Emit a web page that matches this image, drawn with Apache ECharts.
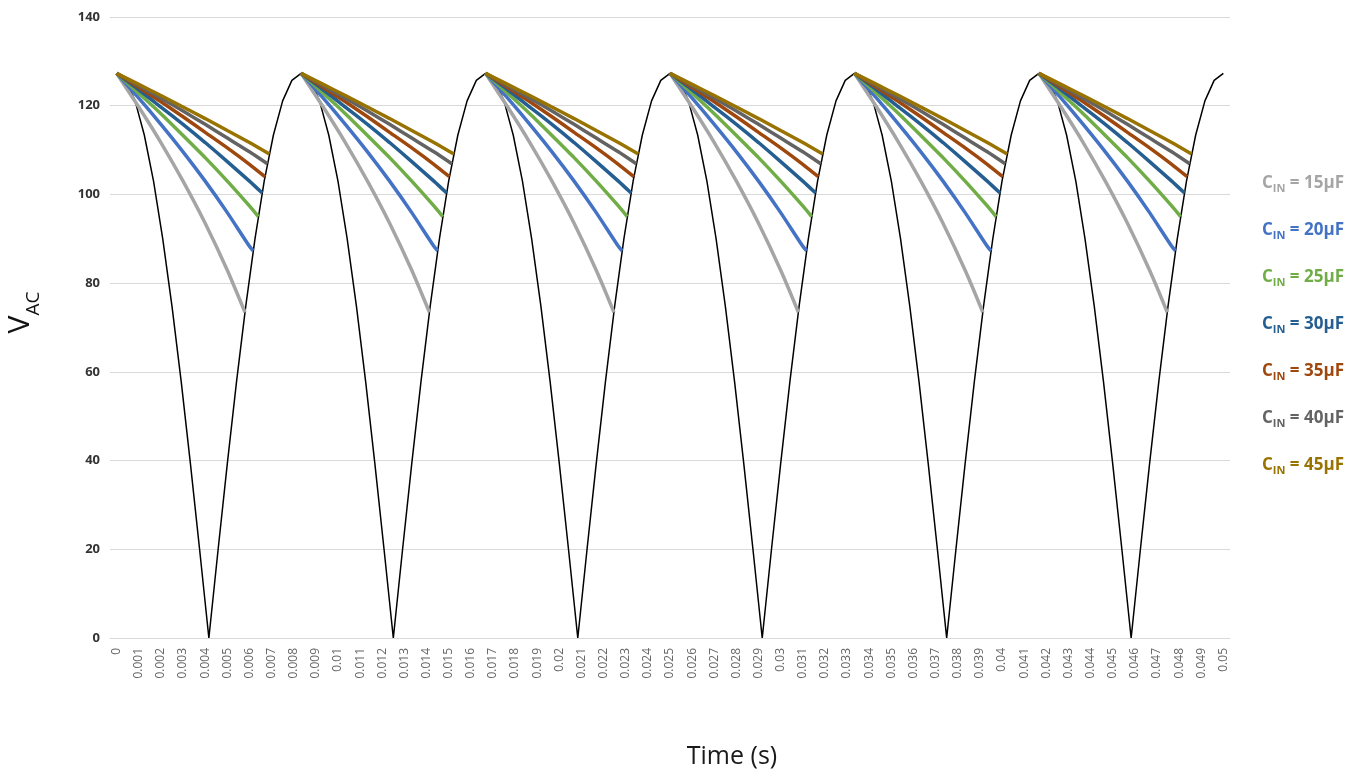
<!DOCTYPE html>
<html>
<head>
<meta charset="utf-8">
<script src="https://cdn.jsdelivr.net/npm/echarts@6/dist/echarts.min.js"></script>
<style>html,body{margin:0;padding:0;background:#fff;}#chart{width:1360px;height:769px;}</style>
</head>
<body>
<div id="chart"></div>
<script>
// ---- data ----
// start of each rectified half-cycle (s)
const cycleStarts = [0, 0.008333, 0.016667, 0.025, 0.033333, 0.041667];
// rectified source voltage over one half-cycle: time offsets (s) and values (V)
const halfCycleOffsets = [0, 0.000417, 0.000833, 0.00125, 0.001667, 0.002083, 0.0025, 0.002917, 0.003333, 0.00375, 0.004167,
                          0.004583, 0.005, 0.005417, 0.005833, 0.00625, 0.006667, 0.007083, 0.0075, 0.007917, 0.008333];
const sourceVoltage = [127.3, 125.7, 121.1, 113.4, 103.0, 90.0, 74.8, 57.8, 39.3, 19.9, 0,
                       19.9, 39.3, 57.8, 74.8, 90.0, 103.0, 113.4, 121.1, 125.7, 127.3];
// capacitor discharge within each half-cycle
const dischargeOffsets = [0, 0.001, 0.002, 0.003, 0.004, 0.005, 0.006];
const cin15 = [127.3, 119.7, 111.7, 103.0, 93.5, 82.9, null];
const cin20 = [127.3, 121.7, 115.8, 109.6, 103.0, 95.9, 88.3];
const cin25 = [127.3, 122.8, 118.2, 113.3, 108.3, 103.0, 97.4];
const cin30 = [127.3, 123.6, 119.7, 115.8, 111.7, 107.4, 103.0];
const cin35 = [127.3, 124.1, 120.9, 117.5, 114.0, 110.5, 106.8];
const cin40 = [127.3, 124.5, 121.7, 118.8, 115.8, 112.7, 109.6];
const cin45 = [127.3, 124.8, 122.3, 119.7, 117.1, 114.4, 111.7];
const dischargeEndOffset = [0.0058, 0.00617, 0.0064, 0.00658, 0.0067, 0.00681, 0.0069];
const dischargeEndValue = [73.4, 87.3, 95.0, 100.3, 104.0, 106.9, 109.1];
const capNames = ['15µF', '20µF', '25µF', '30µF', '35µF', '40µF', '45µF'];
const capColors = ['#A5A5A5', '#4472C4', '#70AD47', '#255E91', '#9E480E', '#636363', '#997300'];
// tick labels
const xTickLabels = [0, 0.001, 0.002, 0.003, 0.004, 0.005, 0.006, 0.007, 0.008, 0.009,
                     0.01, 0.011, 0.012, 0.013, 0.014, 0.015, 0.016, 0.017, 0.018, 0.019,
                     0.02, 0.021, 0.022, 0.023, 0.024, 0.025, 0.026, 0.027, 0.028, 0.029,
                     0.03, 0.031, 0.032, 0.033, 0.034, 0.035, 0.036, 0.037, 0.038, 0.039,
                     0.04, 0.041, 0.042, 0.043, 0.044, 0.045, 0.046, 0.047, 0.048, 0.049, 0.05];
const yTicks = [0, 20, 40, 60, 80, 100, 120, 140];

// ---- build series data ----
const sourceData = [];
cycleStarts.forEach((s, i) => {
  halfCycleOffsets.forEach((o, j) => {
    if (i > 0 && j === 0) return;
    sourceData.push([s + o, sourceVoltage[j]]);
  });
});
const capValues = [cin15, cin20, cin25, cin30, cin35, cin40, cin45];
function dischargeData(idx) {
  const vals = capValues[idx];
  const out = [];
  cycleStarts.forEach(s => {
    dischargeOffsets.forEach((o, j) => {
      if (vals[j] != null && o < dischargeEndOffset[idx]) out.push([s + o, vals[j]]);
    });
    out.push([s + dischargeEndOffset[idx], dischargeEndValue[idx]]);
    out.push([s + dischargeEndOffset[idx] + 0.0001, '-']);
  });
  return out;
}

const series = [{
  name: 'VAC',
  type: 'line',
  data: sourceData,
  showSymbol: false,
  lineStyle: { color: '#000', width: 1.5 },
  itemStyle: { color: '#000' },
  z: 1
}];
capNames.forEach((n, i) => {
  series.push({
    name: n,
    type: 'line',
    data: dischargeData(i),
    showSymbol: false,
    smooth: 0.2,
    connectNulls: false,
    lineStyle: { color: capColors[i], width: 3.5 },
    itemStyle: { color: capColors[i] },
    z: 2 + i
  });
});

const chart = echarts.init(document.getElementById('chart'), null, { renderer: 'canvas' });
chart.setOption({
  animation: false,
  backgroundColor: '#fff',
  grid: { left: 110, right: 130, top: 17, bottom: 131, outerBoundsMode: 'none', containLabel: false },
  legend: {
    orient: 'vertical',
    left: 1252,
    top: 170,
    itemGap: 28,
    icon: 'rect',
    itemWidth: 0,
    itemHeight: 0,
    selectedMode: false,
    data: capNames.map((n, i) => ({
      name: n,
      textStyle: {
        color: capColors[i],
        fontSize: 17,
        fontWeight: 'bold',
        fontFamily: 'Open Sans',
        rich: {
          c: { color: capColors[i], fontSize: 17, fontWeight: 'bold', fontFamily: 'Open Sans', verticalAlign: 'bottom', padding: [0, 0, 2, 0] },
          sub: { color: capColors[i], fontSize: 11, fontWeight: 'bold', fontFamily: 'Open Sans', verticalAlign: 'bottom' }
        }
      }
    })),
    formatter: n => '{c|C}{sub|IN}{c| = ' + n + '}'
  },
  xAxis: {
    type: 'value',
    min: -0.0003,
    max: 0.0503,
    name: 'Time (s)',
    nameLocation: 'middle',
    nameGap: 106,
    nameTextStyle: { fontSize: 25, color: '#1a1a1a', fontFamily: 'Open Sans', padding: [0, 0, 0, 124] },
    axisLine: { show: true, lineStyle: { color: '#d9d9d9', width: 1 } },
    axisTick: { show: false },
    splitLine: { show: false },
    axisLabel: {
      customValues: xTickLabels,
      rotate: 90,
      margin: 10,
      fontSize: 12,
      color: '#666',
      fontFamily: 'Open Sans',
      formatter: v => String(v)
    }
  },
  yAxis: {
    type: 'value',
    min: yTicks[0],
    max: yTicks[yTicks.length - 1],
    interval: 20,
    name: '{v|V}{s|AC}',
    nameLocation: 'middle',
    nameRotate: 90,
    nameGap: 67,
    nameTextStyle: {
      padding: [0, 0, 0, 30],
      rich: {
        v: { fontSize: 30, color: '#111', fontFamily: 'Open Sans', verticalAlign: 'bottom', padding: [0, 0, 8, 0] },
        s: { fontSize: 19, color: '#111', fontFamily: 'Open Sans', verticalAlign: 'bottom' }
      }
    },
    axisLine: { show: false },
    axisTick: { show: false },
    splitLine: { lineStyle: { color: '#d9d9d9', width: 1 } },
    axisLabel: { margin: 10, fontSize: 13, fontWeight: 'bold', color: '#333', fontFamily: 'Open Sans' }
  },
  series: series
});
</script>
</body>
</html>
